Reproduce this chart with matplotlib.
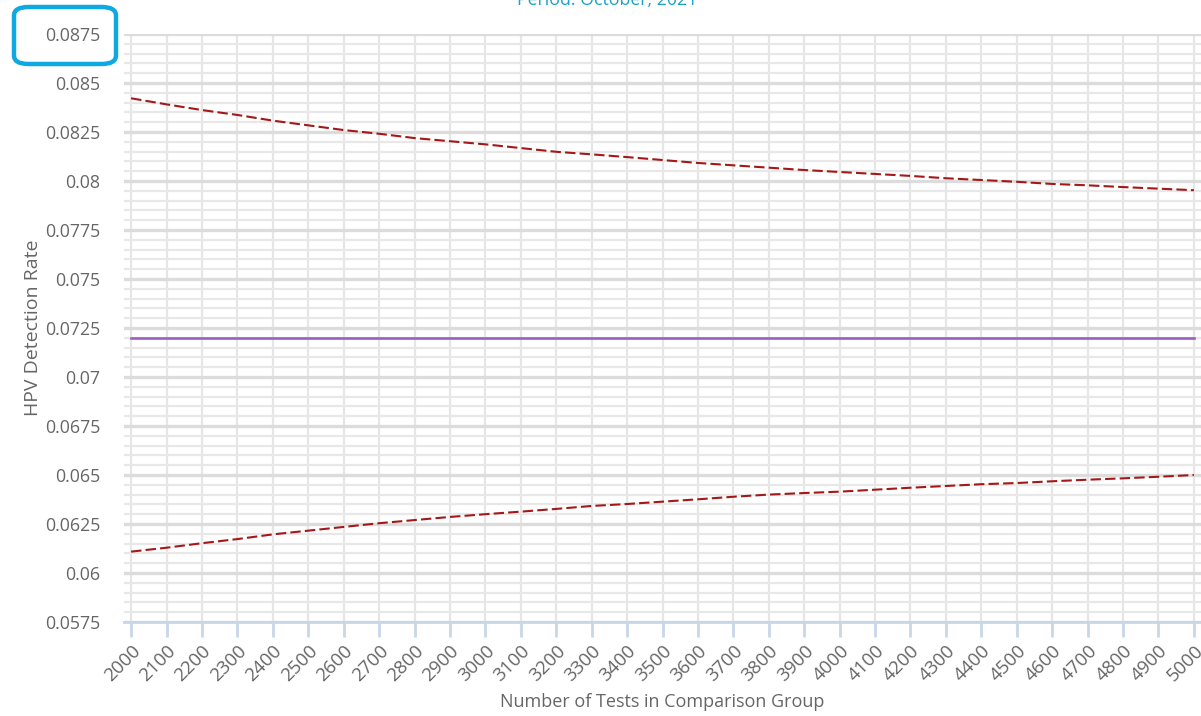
import matplotlib
matplotlib.use("Agg")
import matplotlib.pyplot as plt
from matplotlib.patches import FancyBboxPatch
from matplotlib.ticker import MultipleLocator, FixedLocator
import numpy as np

plt.rcParams['font.family'] = ['Open Sans', 'DejaVu Sans']

# number of tests in the comparison group
n_tests = list(range(2000, 5001, 100))

# upper / lower control limits and the group mean
upper_limit = [0.08422, 0.08391, 0.08362, 0.08337, 0.08308, 0.08284, 0.08260, 0.08241,
               0.08219, 0.08203, 0.08187, 0.08168, 0.08149, 0.08136, 0.08122, 0.08107,
               0.08092, 0.08080, 0.08068, 0.08056, 0.08046, 0.08036, 0.08026, 0.08014,
               0.08005, 0.07996, 0.07985, 0.07978, 0.07969, 0.07961, 0.07953]
lower_limit = [0.06109, 0.06129, 0.06152, 0.06173, 0.06197, 0.06216, 0.06235, 0.06254,
               0.06270, 0.06286, 0.06300, 0.06313, 0.06327, 0.06342, 0.06352, 0.06364,
               0.06376, 0.06389, 0.06400, 0.06408, 0.06415, 0.06425, 0.06435, 0.06444,
               0.06453, 0.06459, 0.06468, 0.06476, 0.06483, 0.06491, 0.06500]
mean_rate = 0.0720

y_ticks = [0.0575, 0.06, 0.0625, 0.065, 0.0675, 0.07, 0.0725, 0.075, 0.0775,
           0.08, 0.0825, 0.085, 0.0875]
y_tick_labels = ['0.0575', '0.06', '0.0625', '0.065', '0.0675', '0.07', '0.0725',
                 '0.075', '0.0775', '0.08', '0.0825', '0.085', '0.0875']

W, H = 1201, 716
fig = plt.figure(figsize=(W / 100, H / 100), dpi=100)
ax = fig.add_axes([124 / W, 1 - 622 / H, 1 - 124 / W, (622 - 34) / H])

ax.set_xlim(1980, 5020)
ax.set_ylim(0.0575, 0.0875)

# grid
ax.yaxis.set_major_locator(FixedLocator(y_ticks))
ax.yaxis.set_minor_locator(MultipleLocator(0.0005))
ax.xaxis.set_major_locator(FixedLocator(n_tests))
ax.grid(which='major', axis='y', color='#dcdcdc', linewidth=2.4)
ax.grid(which='minor', axis='y', color='#e8e8e8', linewidth=1.6)
ax.grid(which='major', axis='x', color='#e6e6e6', linewidth=1.6)
ax.set_axisbelow(True)

ax.plot(n_tests, [mean_rate] * len(n_tests), color='#9b5fc0', linewidth=1.9)
ax.plot(n_tests, upper_limit, color='#a31818', linewidth=1.5, dashes=(5, 2))
ax.plot(n_tests, lower_limit, color='#a31818', linewidth=1.5, dashes=(5, 2))

for s in ['left', 'right', 'top']:
    ax.spines[s].set_visible(False)
ax.spines['bottom'].set_color('#c8d6e8')
ax.spines['bottom'].set_linewidth(2)

ax.set_yticklabels(y_tick_labels)
ax.tick_params(axis='y', which='both', length=0, pad=17, labelsize=12.8, labelcolor='#666666')
ax.tick_params(axis='x', which='major', length=11, width=2, color='#c8d6e8',
               labelsize=13.5, labelcolor='#666666', pad=3)
ax.set_xticklabels([str(v) for v in n_tests], rotation=45, ha='right',
                   rotation_mode='anchor')

fig.text(33 / W, 1 - 328 / H, 'HPV Detection Rate', rotation=90, ha='center',
         va='center', fontsize=14, color='#666666')
fig.text(662 / W, 1 - 702 / H, 'Number of Tests in Comparison Group', ha='center',
         va='center', fontsize=13, color='#666666')
fig.text(607 / W, 1 - 5 / H, 'Period: October, 2021', ha='center', va='baseline',
         fontsize=12.8, color='#1aa3c4')

# highlight around the top y label
box = FancyBboxPatch((14 / W, 1 - 64 / H), 102 / W, 57 / H,
                     boxstyle='round,pad=0,rounding_size=0.012',
                     transform=fig.transFigure, fill=False,
                     edgecolor='#0ea8e2', linewidth=3.2)
fig.patches.append(box)

fig.savefig('out.png', dpi=100)
